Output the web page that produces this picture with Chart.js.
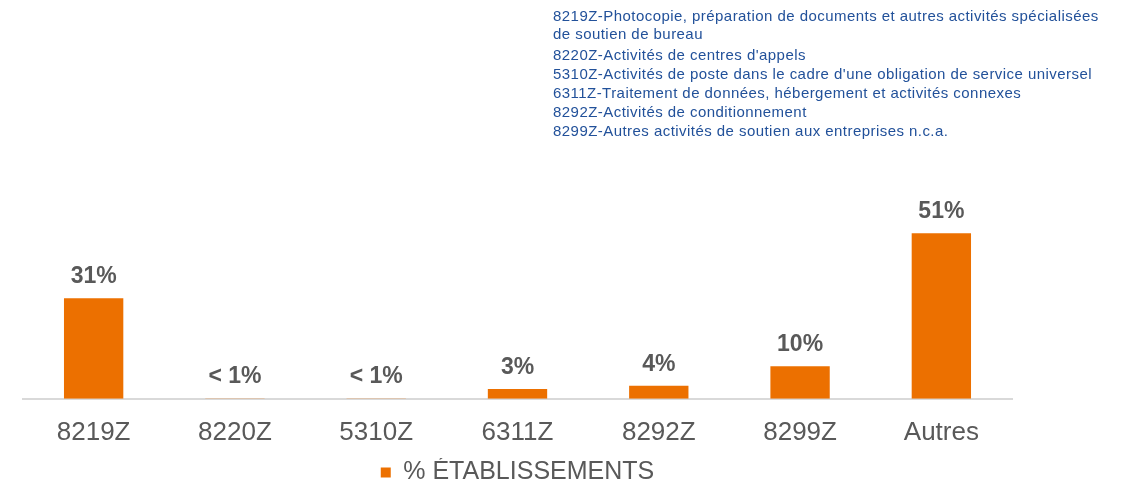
<!DOCTYPE html>
<html>
<head>
<meta charset="utf-8">
<script src="https://cdn.jsdelivr.net/npm/chart.js@4"></script>
<style>
  html, body { margin: 0; padding: 0; background: #fff; }
  #wrap { position: relative; width: 1125px; height: 483px; }
  #notes {
    position: absolute; left: 553px; top: 7px;
    font-family: "Liberation Sans", Arial, sans-serif; font-size: 15px;
    letter-spacing: 0.45px;
    color: #22519a; line-height: 18px;
  }
  #notes div { margin-bottom: 1px; }
  #notes div.first { margin-bottom: 3px; }
</style>
</head>
<body>
<div id="wrap">
  <canvas id="grafico" width="1125" height="483"></canvas>
  <div id="notes">
    <div class="first">8219Z-Photocopie, préparation de documents et autres activités spécialisées<br>de soutien de bureau</div>
    <div>8220Z-Activités de centres d'appels</div>
    <div>5310Z-Activités de poste dans le cadre d'une obligation de service universel</div>
    <div>6311Z-Traitement de données, hébergement et activités connexes</div>
    <div>8292Z-Activités de conditionnement</div>
    <div>8299Z-Autres activités de soutien aux entreprises n.c.a.</div>
  </div>
</div>
<script>
// données
const categories = ['8219Z', '8220Z', '5310Z', '6311Z', '8292Z', '8299Z', 'Autres'];
const valeurs = [31, 0.1, 0.1, 3, 4, 10, 51];
const etiquettes = ['31%', '< 1%', '< 1%', '3%', '4%', '10%', '51%'];
const nomSerie = '% ÉTABLISSEMENTS';

const orange = '#ec7000';
const gris = '#595959';
const police = '"Liberation Sans", Arial, sans-serif';

// étiquettes au-dessus des barres
const pluginEtiquettes = {
    id: 'etiquettes',
    afterDatasetsDraw(chart) {
        const ctx = chart.ctx;
        const meta = chart.getDatasetMeta(0);
        ctx.save();
        ctx.font = 'bold 23px ' + police;
        ctx.fillStyle = gris;
        ctx.textAlign = 'center';
        ctx.textBaseline = 'bottom';
        meta.data.forEach((bar, i) => {
            ctx.fillText(etiquettes[i], bar.x, bar.y - 10);
        });
        ctx.restore();
    }
};

const ctx = document.getElementById('grafico');
new Chart(ctx, {
    type: 'bar',
    data: {
        labels: categories,
        datasets: [{
            label: nomSerie,
            data: valeurs,
            backgroundColor: orange,
            borderWidth: 0,
            barPercentage: 0.42,
            categoryPercentage: 1
        }]
    },
    options: {
        responsive: false,
        animation: false,
        layout: {
            padding: { left: 23, right: 113, top: 204, bottom: -12 }
        },
        plugins: {
            legend: {
                position: 'bottom',
                labels: {
                    boxWidth: 10,
                    boxHeight: 10,
                    color: gris,
                    padding: 2,
                    font: { family: police, size: 25 }
                }
            },
            tooltip: { enabled: false }
        },
        scales: {
            x: {
                grid: { display: false },
                border: { display: true, color: '#d9d9d9', width: 2 },
                ticks: {
                    color: gris,
                    padding: 10,
                    font: { family: police, size: 26 }
                }
            },
            y: {
                display: false,
                min: 0,
                max: 60
            }
        }
    },
    plugins: [pluginEtiquettes]
});
</script>
</body>
</html>
